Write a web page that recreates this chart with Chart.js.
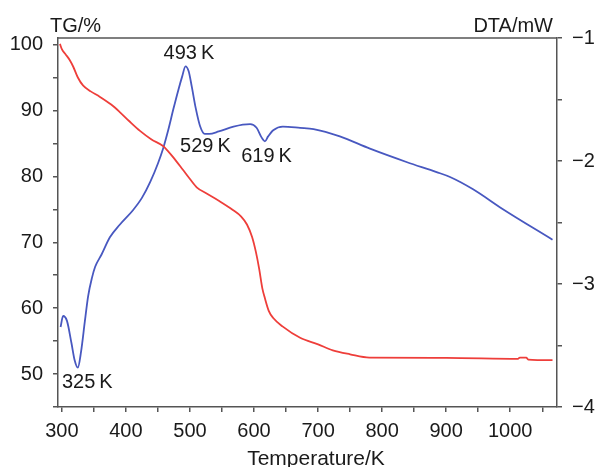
<!DOCTYPE html>
<html>
<head>
<meta charset="utf-8">
<script src="https://cdn.jsdelivr.net/npm/chart.js@4.4.1/dist/chart.umd.min.js"></script>
<style>
  html, body { margin: 0; padding: 0; background: #fff; }
  #wrap { width: 595px; height: 467px; }
</style>
</head>
<body>
<div id="wrap"><canvas id="tgChart"></canvas></div>
<script>
// TG curve (left axis, %)
var tgTemp = [297, 300, 306, 312, 318, 325, 333, 345, 359, 377, 390, 405, 422, 440, 458, 466, 473, 489, 500, 511, 526, 545, 567, 580, 589, 597, 603, 608, 613, 617, 623, 630, 645, 672, 700, 723, 750, 780, 900, 1012, 1015, 1025, 1028, 1066];
var tgValue = [100.1, 99.3, 98.5, 97.7, 96.6, 95.0, 93.8, 92.9, 92.1, 90.9, 89.8, 88.4, 86.9, 85.6, 84.6, 83.8, 83.0, 81.0, 79.6, 78.3, 77.4, 76.3, 74.9, 73.9, 72.7, 70.8, 68.5, 66.0, 63.0, 61.5, 59.6, 58.5, 57.2, 55.5, 54.5, 53.6, 53.0, 52.5, 52.45, 52.3, 52.5, 52.5, 52.2, 52.1];

// DTA curve (right axis, mW)
var dtaTemp = [298, 302, 308, 315, 320, 325, 330, 336, 341, 347, 352, 362, 375, 390, 411, 425, 438, 450, 458, 466, 474, 482, 488, 493, 498, 503, 509, 516, 523, 530, 545, 568, 594, 604, 612, 617, 622, 630, 645, 672, 693, 734, 781, 839, 885, 906, 942, 988, 1066];
var dtaValue = [-3.35, -3.26, -3.30, -3.48, -3.62, -3.68, -3.55, -3.30, -3.10, -2.95, -2.86, -2.76, -2.62, -2.52, -2.40, -2.30, -2.17, -2.02, -1.90, -1.75, -1.58, -1.42, -1.31, -1.23, -1.27, -1.40, -1.57, -1.72, -1.78, -1.78, -1.76, -1.72, -1.70, -1.73, -1.81, -1.84, -1.80, -1.75, -1.72, -1.73, -1.74, -1.80, -1.90, -2.01, -2.09, -2.13, -2.23, -2.39, -2.64];

// peak labels
var peakText = ['493\u2009K', '529\u2009K', '619\u2009K', '325\u2009K'];
var peakTemp = [498.4, 524.2, 619.5, 339.8];
var peakDta = [-1.171, -1.929, -2.011, -3.844];

var axisColor = '#555';
var textColor = '#1a1a1a';
var fontFamily = "'Liberation Sans', Arial, sans-serif";

function toPoints(xs, ys) {
    return xs.map(function (x, i) { return { x: x, y: ys[i] }; });
}

var textPlugin = {
    id: 'texts',
    afterDraw: function (chart) {
        var ctx = chart.ctx;
        var area = chart.chartArea;
        var xs = chart.scales.x;
        var yr = chart.scales.y2;
        ctx.save();
        // top border of the frame
        ctx.strokeStyle = axisColor;
        ctx.lineWidth = 1.5;
        ctx.beginPath();
        ctx.moveTo(area.left, area.top);
        ctx.lineTo(area.right, area.top);
        ctx.stroke();

        ctx.fillStyle = textColor;
        ctx.font = '20px ' + fontFamily;
        ctx.textBaseline = 'alphabetic';
        ctx.textAlign = 'left';
        ctx.fillText('TG/%', 50, 32);
        ctx.textAlign = 'right';
        ctx.fillText('DTA/mW', 553, 32);
        ctx.textAlign = 'center';
        ctx.font = '21px ' + fontFamily;
        ctx.fillText('Temperature/K', 316, 465);

        ctx.font = '20px ' + fontFamily;
        for (var i = 0; i < peakText.length; i++) {
            ctx.fillText(peakText[i], xs.getPixelForValue(peakTemp[i]), yr.getPixelForValue(peakDta[i]));
        }
        ctx.restore();
    }
};

var ctx = document.getElementById('tgChart').getContext('2d');
var chart = new Chart(ctx, {
    type: 'line',
    data: {
        datasets: [{
            label: 'TG',
            data: toPoints(tgTemp, tgValue),
            yAxisID: 'y',
            borderColor: 'rgb(238, 62, 58)',
            borderWidth: 1.8,
            pointRadius: 0,
            cubicInterpolationMode: 'monotone'
        }, {
            label: 'DTA',
            data: toPoints(dtaTemp, dtaValue),
            yAxisID: 'y2',
            borderColor: 'rgb(72, 88, 192)',
            borderWidth: 1.8,
            pointRadius: 0,
            cubicInterpolationMode: 'monotone'
        }]
    },
    options: {
        responsive: true,
        maintainAspectRatio: false,
        animation: false,
        layout: { padding: { top: 38, left: 0, right: 0, bottom: 0 } },
        plugins: {
            legend: { display: false },
            tooltip: { enabled: false }
        },
        scales: {
            x: {
                type: 'linear',
                min: 294,
                max: 1073,
                afterFit: function (s) { s.height = 60; },
                border: { color: axisColor, width: 1.5 },
                grid: { drawOnChartArea: false, tickLength: 5, color: axisColor, lineWidth: 1.5 },
                ticks: {
                    stepSize: 50,
                    includeBounds: false,
                    autoSkip: false,
                    maxRotation: 0,
                    padding: 7,
                    color: textColor,
                    font: { family: fontFamily, size: 20 },
                    callback: function (v) { return v % 100 === 0 ? String(v) : ''; }
                }
            },
            y: {
                position: 'left',
                min: 45,
                max: 101,
                afterFit: function (s) { s.width = 58; },
                border: { color: axisColor, width: 1.5 },
                grid: { drawOnChartArea: false, tickLength: 5, color: axisColor, lineWidth: 1.5 },
                ticks: {
                    stepSize: 5,
                    includeBounds: false,
                    autoSkip: false,
                    padding: 10,
                    color: textColor,
                    font: { family: fontFamily, size: 20 },
                    callback: function (v) { return v % 10 === 0 ? String(v) : ''; }
                }
            },
            y2: {
                position: 'right',
                min: -4,
                max: -1,
                afterFit: function (s) { s.width = 38; },
                border: { color: axisColor, width: 1.5 },
                grid: { drawOnChartArea: false, tickLength: 5, color: axisColor, lineWidth: 1.5 },
                ticks: {
                    stepSize: 0.5,
                    autoSkip: false,
                    padding: 10,
                    color: textColor,
                    font: { family: fontFamily, size: 20 },
                    callback: function (v) { return Number.isInteger(v) ? '\u2212' + Math.abs(v) : ''; }
                }
            }
        }
    },
    plugins: [textPlugin]
});
</script>
</body>
</html>
